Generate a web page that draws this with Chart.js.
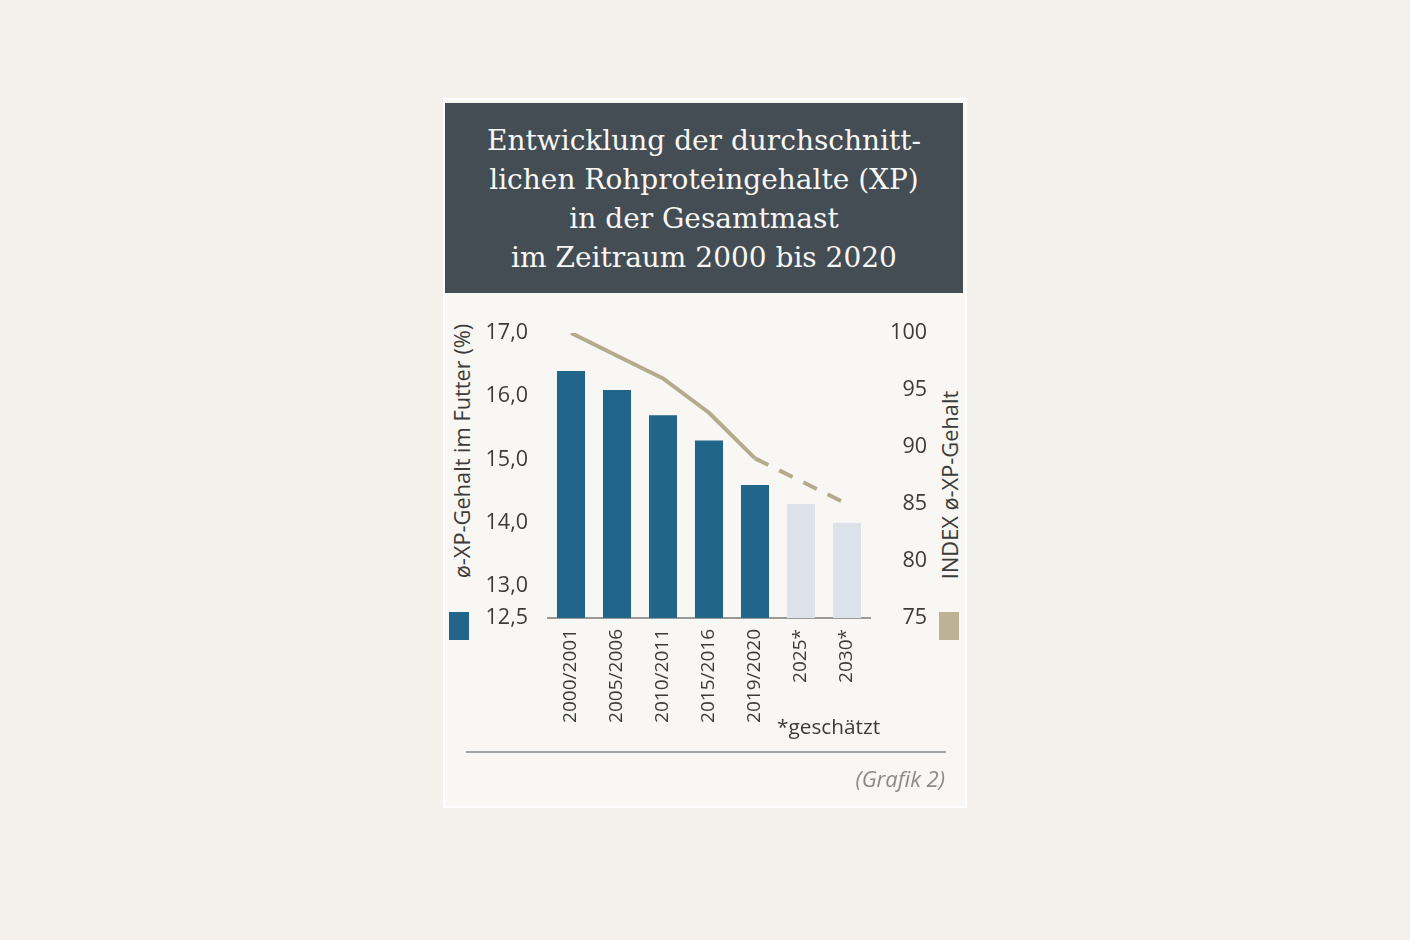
<!DOCTYPE html>
<html lang="de">
<head>
<meta charset="utf-8">
<script src="https://cdn.jsdelivr.net/npm/chart.js@4.4.1/dist/chart.umd.min.js"></script>
<style>
  html, body { margin:0; padding:0; }
  body { width:1410px; height:940px; background:#f4f1ec; position:relative; overflow:hidden; font-family:"Open Sans", sans-serif; }
  #card { position:absolute; left:443px; top:98px; width:524px; height:710px; box-sizing:border-box; border:2px solid #ffffff; background:#f9f7f3; }
  #titlebox { position:absolute; left:445px; top:103px; width:518px; height:190px; background:#434d53; color:#f7f7f5;
    font-family:"DejaVu Serif", serif; font-size:28px; line-height:39px; text-align:center; box-sizing:border-box; padding-top:18px; }
  #chartwrap { position:absolute; left:470px; top:300px; width:470px; height:440px; }
  .ytitle { position:absolute; white-space:nowrap; font-size:21.8px; color:#3b3b3b; transform:translate(-50%,-50%) rotate(-90deg); }
  .sq { position:absolute; width:20px; height:28px; }
  #note { position:absolute; left:777px; top:712px; font-size:20.8px; color:#3b3b3b; white-space:nowrap; }
  #rule { position:absolute; left:466px; top:751px; width:480px; height:2px; background:#9ea3a6; }
  #src { position:absolute; right:465px; top:763px; font-size:22px; font-style:italic; color:#8a8a8a; white-space:nowrap; }
</style>
</head>
<body>
<div id="card"></div>
<div id="titlebox">Entwicklung der durchschnitt-<br>lichen Rohproteingehalte (XP)<br>in der Gesamtmast<br>im Zeitraum 2000 bis 2020</div>
<div class="ytitle" style="left:461px; top:451px;">ø-XP-Gehalt im Futter (%)</div>
<div class="ytitle" style="left:949px; top:485px;">INDEX ø-XP-Gehalt</div>
<div class="sq" style="left:449px; top:612px; background:#22658a;"></div>
<div class="sq" style="left:939px; top:612px; background:#bdb294;"></div>
<div id="chartwrap"><canvas id="c" width="470" height="440"></canvas></div>
<div id="note">*geschätzt</div>
<div id="rule"></div>
<div id="src">(Grafik 2)</div>
<script>
const categories = ['2000/2001','2005/2006','2010/2011','2015/2016','2019/2020','2025*','2030*'];
const xpValues = [16.4, 16.1, 15.7, 15.3, 14.6, 14.3, 14.0];
const indexValues = [100, 98, 96, 93, 89, 87, 85];
const leftTicks = [12.5, 13, 14, 15, 16, 17];
const rightTicks = [75, 80, 85, 90, 95, 100];
const estimatedFrom = 5; // index of first estimated category

const barColors = categories.map((c, i) => i < estimatedFrom ? '#22658a' : '#dce1ea');
const tickColor = '#3b3b3b';
const tickFont = { family: '"Open Sans", sans-serif', size: 21.5 };

new Chart(document.getElementById('c'), {
  data: {
    labels: categories,
    datasets: [
      {
        type: 'line',
        data: indexValues,
        yAxisID: 'y2',
        borderColor: '#b5aa8d',
        borderWidth: 4,
        pointRadius: 0,
        tension: 0,
        order: 0,
        borderCapStyle: 'butt',
        segment: {
          borderDash: ctx => ctx.p0DataIndex >= estimatedFrom - 1 ? [15, 12] : undefined
        }
      },
      {
        type: 'bar',
        data: xpValues,
        yAxisID: 'y',
        backgroundColor: barColors,
        base: 12.5,
        barPercentage: 0.61,
        categoryPercentage: 1.0,
        order: 1
      }
    ]
  },
  options: {
    responsive: false,
    animation: false,
    layout: { padding: { top: 31, right: 13, left: 0, bottom: 0 } },
    plugins: { legend: { display: false }, tooltip: { enabled: false } },
    scales: {
      x: {
        grid: { display: false, drawTicks: false },
        border: { display: true, color: '#9a9a9a', width: 2 },
        ticks: { color: tickColor, font: { family: '"Open Sans", sans-serif', size: 19 }, minRotation: 90, maxRotation: 90, padding: 11, autoSkip: false },
        afterFit: s => { s.height = 122; }
      },
      y: {
        position: 'left',
        min: 12.5, max: 17,
        grid: { display: false, drawTicks: false },
        border: { display: false },
        afterBuildTicks: s => { s.ticks = leftTicks.map(v => ({ value: v })); },
        ticks: { color: tickColor, font: tickFont, padding: 20, callback: v => Number(v).toFixed(1).replace('.', ',') },
        afterFit: s => { s.width = 78; }
      },
      y2: {
        position: 'right',
        min: 75, max: 100,
        grid: { display: false, drawTicks: false },
        border: { display: false },
        afterBuildTicks: s => { s.ticks = rightTicks.map(v => ({ value: v })); },
        ticks: { color: tickColor, font: tickFont, crossAlign: 'far', callback: v => String(v) },
        afterFit: s => { s.width = 57; }
      }
    }
  }
});
</script>
</body>
</html>
